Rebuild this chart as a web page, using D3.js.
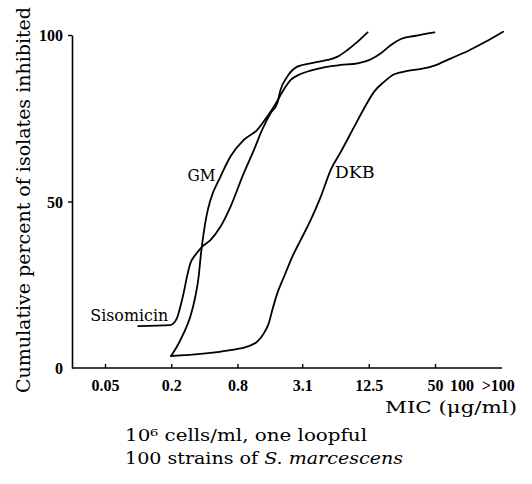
<!DOCTYPE html>
<html><head><meta charset="utf-8">
<script src="https://cdn.jsdelivr.net/npm/d3@7/dist/d3.min.js"></script>
<style>body{margin:0;background:#fff}svg{display:block}</style>
</head><body>
<svg id="chart" width="532" height="484"></svg>
<script>
// ---- data ----
const xTickValues = [0.05, 0.2, 0.8, 3.1, 12.5, 50];
const xTickLabels = ["0.05", "0.2", "0.8", "3.1", "12.5", "50"];
const xExtraValues = [100, 200];
const xExtraLabels = ["100", ">100"];
const yTickValues = [0, 50, 100];
const yTickLabels = ["0", "50", "100"];

const gmMIC = [0.199,0.225,0.259,0.298,0.331,0.355,0.373,0.394,0.417,0.454,0.56,0.691,0.913,1.21,1.49,1.72,2.10,2.44,3.0,3.7,4.9,6.95,9.9,13.1,16.1,19.9,24.5,32.5,49.4];
const gmPct = [3.6,6.4,10.4,15.4,21.4,27.4,34.4,40.4,45.4,50.4,57.4,63.5,68.5,71.5,75.5,78.5,83.5,86.5,88.3,89.3,90.3,91.0,91.5,92.7,94.5,97.0,98.8,99.7,100.8];

const sisoMIC = [0.1,0.196,0.225,0.242,0.259,0.278,0.298,0.331,0.381,0.454,0.56,0.691,0.913,1.13,1.34,1.6,1.84,1.97,2.27,2.8,3.97,5.26,6.5,8.0,9.9,12.2];
const sisoPct = [12.6,12.9,14.9,18.4,22.4,27.4,31.4,33.9,36.4,38.4,42.4,48.4,58.5,65.5,71.5,76.5,79.5,83.5,87.5,90.5,91.7,92.5,93.5,95.5,98.0,100.8];

const dkbMIC = [0.199,0.691,0.98,1.21,1.39,1.54,1.66,1.84,2.12,2.52,3.0,3.7,4.57,5.64,6.96,9.2,11.35,14.0,17.3,21.3,28.2,37.4,49.4,70,99.6,141,208];
const dkbPct = [3.6,5.4,6.4,7.9,10.4,13.4,17.4,22.4,27.4,33.4,38.4,44.4,51.4,59.5,64.9,72.4,78.0,83.0,86.0,88.2,89.2,89.8,90.8,93.0,95.2,97.8,101];

const seriesNames = ["GM", "Sisomicin", "DKB"];

// ---- layout ----
const svg = d3.select("#chart");
const plotLeft = 72, plotRight = 502, plotTop = 35, plotBottom = 368;
const x = d3.scaleLog().base(2).domain([0.05, 50]).range([105, 435]);
const y = d3.scaleLinear().domain([0, 100]).range([plotBottom, plotTop]);

const numFont = "'Liberation Serif', 'Times New Roman', serif";
const txtFont = "'DejaVu Serif', serif";

// y axis
const yAxis = d3.axisLeft(y).tickValues(yTickValues).tickSize(4).tickSizeOuter(0)
  .tickFormat((d, i) => yTickLabels[i]);
const gy = svg.append("g").attr("transform", `translate(${plotLeft},0)`).call(yAxis);
gy.select(".domain").attr("stroke", "#000").attr("stroke-width", 1.6);
gy.selectAll(".tick line").attr("stroke", "#000").attr("stroke-width", 1.4)
  .attr("display", d => d === 0 ? "none" : null);
gy.selectAll(".tick text").attr("x", -9).attr("dy", "0.36em")
  .style("font-family", numFont).style("font-size", "16px").style("font-weight", "bold").attr("fill", "#000");

// x axis
const xAxis = d3.axisBottom(x).tickValues(xTickValues).tickSize(-4).tickSizeOuter(0)
  .tickFormat((d, i) => xTickLabels[i]);
const gx = svg.append("g").attr("transform", `translate(0,${plotBottom})`).call(xAxis);
gx.select(".domain").remove();
gx.append("line").attr("x1", plotLeft).attr("x2", plotRight).attr("y1", 0).attr("y2", 0)
  .attr("stroke", "#000").attr("stroke-width", 1.6);
gx.selectAll(".tick line").attr("stroke", "#000").attr("stroke-width", 1.4);
gx.selectAll(".tick text").attr("y", 12).attr("dy", "0.71em")
  .style("font-family", numFont).style("font-size", "16px").style("font-weight", "bold").attr("fill", "#000");
const extraDx = [-6, -3];
gx.selectAll(".extra").data(xExtraValues).enter().append("text")
  .attr("class", "extra")
  .attr("x", (d, i) => x(d) + extraDx[i]).attr("y", 12).attr("dy", "0.71em")
  .attr("text-anchor", "middle").attr("fill", "#000")
  .style("font-family", numFont).style("font-size", "16px").style("font-weight", "bold")
  .text((d, i) => xExtraLabels[i]);

// lines
const line = d3.line().x(d => x(d[0])).y(d => y(d[1])).curve(d3.curveMonotoneX);
const series = [
  d3.zip(gmMIC, gmPct),
  d3.zip(sisoMIC, sisoPct),
  d3.zip(dkbMIC, dkbPct)
];
svg.append("g").selectAll("path").data(series).enter().append("path")
  .attr("d", line).attr("fill", "none").attr("stroke", "#000")
  .attr("stroke-width", 1.8).attr("stroke-linejoin", "round").attr("stroke-linecap", "round");

// series labels (anchored near their curves)
const labelSpec = [
  {name: seriesNames[0], v: 0.56, p: 56.2, dx: -5, anchor: "end", len: 28},
  {name: seriesNames[1], v: 0.196, p: 14, dx: -2, anchor: "end", len: 78},
  {name: seriesNames[2], v: 5.64, p: 57, dx: 4, anchor: "start", len: 40}
];
svg.append("g").selectAll("text").data(labelSpec).enter().append("text")
  .attr("x", d => x(d.v) + d.dx).attr("y", d => y(d.p))
  .attr("text-anchor", d => d.anchor)
  .attr("textLength", d => d.len).attr("lengthAdjust", "spacingAndGlyphs")
  .style("font-family", txtFont).style("font-size", "16px")
  .text(d => d.name);

// axis titles
svg.append("text")
  .attr("transform", `translate(30,200) rotate(-90)`)
  .attr("text-anchor", "middle")
  .attr("textLength", 386).attr("lengthAdjust", "spacingAndGlyphs")
  .style("font-family", txtFont).style("font-size", "18px")
  .text("Cumulative percent of isolates inhibited");

svg.append("text")
  .attr("x", 517).attr("y", 413).attr("text-anchor", "end")
  .attr("textLength", 132).attr("lengthAdjust", "spacingAndGlyphs")
  .style("font-family", txtFont).style("font-size", "17px")
  .text("MIC (\u03bcg/ml)");

// notes
svg.append("text").attr("x", 125).attr("y", 441)
  .attr("textLength", 242).attr("lengthAdjust", "spacingAndGlyphs")
  .style("font-family", txtFont).style("font-size", "16px")
  .text("10\u2076 cells/ml, one loopful");
const n2 = svg.append("text").attr("x", 125).attr("y", 464)
  .attr("textLength", 278).attr("lengthAdjust", "spacingAndGlyphs")
  .style("font-family", txtFont).style("font-size", "16px");
n2.append("tspan").text("100 strains of ");
n2.append("tspan").style("font-style", "italic").text("S. marcescens");
</script>
</body></html>
